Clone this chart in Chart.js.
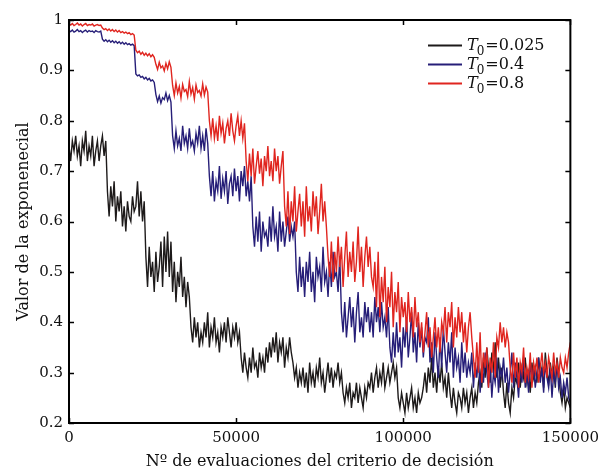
<!DOCTYPE html>
<html>
<head>
<meta charset="utf-8">
<script src="https://cdn.jsdelivr.net/npm/chart.js@4"></script>
<style>
  html, body { margin: 0; padding: 0; background: #fff; }
  canvas { display: block; }
</style>
</head>
<body>
<canvas id="expChart" width="605" height="471"></canvas>
<script>
// evaluaciones (en miles), una muestra cada 500
const evalsK = [
  0,0.5,1,1.5,2,2.5,3,3.5,4,4.5,5,5.5,6,6.5,7,7.5,8,8.5,9,9.5,
  10,10.5,11,11.5,12,12.5,13,13.5,14,14.5,15,15.5,16,16.5,17,17.5,18,18.5,19,19.5,
  20,20.5,21,21.5,22,22.5,23,23.5,24,24.5,25,25.5,26,26.5,27,27.5,28,28.5,29,29.5,
  30,30.5,31,31.5,32,32.5,33,33.5,34,34.5,35,35.5,36,36.5,37,37.5,38,38.5,39,39.5,
  40,40.5,41,41.5,42,42.5,43,43.5,44,44.5,45,45.5,46,46.5,47,47.5,48,48.5,49,49.5,
  50,50.5,51,51.5,52,52.5,53,53.5,54,54.5,55,55.5,56,56.5,57,57.5,58,58.5,59,59.5,
  60,60.5,61,61.5,62,62.5,63,63.5,64,64.5,65,65.5,66,66.5,67,67.5,68,68.5,69,69.5,
  70,70.5,71,71.5,72,72.5,73,73.5,74,74.5,75,75.5,76,76.5,77,77.5,78,78.5,79,79.5,
  80,80.5,81,81.5,82,82.5,83,83.5,84,84.5,85,85.5,86,86.5,87,87.5,88,88.5,89,89.5,
  90,90.5,91,91.5,92,92.5,93,93.5,94,94.5,95,95.5,96,96.5,97,97.5,98,98.5,99,99.5,
  100,100.5,101,101.5,102,102.5,103,103.5,104,104.5,105,105.5,106,106.5,107,107.5,108,108.5,109,109.5,
  110,110.5,111,111.5,112,112.5,113,113.5,114,114.5,115,115.5,116,116.5,117,117.5,118,118.5,119,119.5,
  120,120.5,121,121.5,122,122.5,123,123.5,124,124.5,125,125.5,126,126.5,127,127.5,128,128.5,129,129.5,
  130,130.5,131,131.5,132,132.5,133,133.5,134,134.5,135,135.5,136,136.5,137,137.5,138,138.5,139,139.5,
  140,140.5,141,141.5,142,142.5,143,143.5,144,144.5,145,145.5,146,146.5,147,147.5,148,148.5,149,149.5,
  150];

const t0_025 = [
  0.75,0.72,0.76,0.74,0.77,0.73,0.75,0.71,0.76,0.74,0.78,0.72,0.75,0.73,0.77,0.71,0.74,0.76,0.72,0.75,
  0.77,0.73,0.76,0.66,0.61,0.67,0.63,0.68,0.60,0.65,0.62,0.66,0.59,0.63,0.58,0.64,0.61,0.60,0.65,0.62,
  0.63,0.68,0.61,0.66,0.60,0.64,0.53,0.47,0.55,0.49,0.52,0.46,0.54,0.48,0.51,0.56,0.47,0.57,0.50,0.58,
  0.49,0.56,0.46,0.52,0.44,0.50,0.47,0.53,0.45,0.49,0.43,0.48,0.45,0.39,0.36,0.41,0.37,0.40,0.35,0.38,
  0.36,0.40,0.37,0.42,0.35,0.39,0.37,0.41,0.36,0.38,0.34,0.39,0.37,0.40,0.36,0.41,0.38,0.35,0.39,0.37,
  0.40,0.36,0.38,0.33,0.30,0.34,0.31,0.29,0.33,0.30,0.35,0.31,0.32,0.29,0.34,0.31,0.33,0.30,0.35,0.32,
  0.36,0.33,0.37,0.34,0.38,0.32,0.36,0.34,0.37,0.31,0.35,0.33,0.37,0.34,0.32,0.29,0.31,0.27,0.30,0.28,
  0.31,0.27,0.30,0.26,0.32,0.28,0.30,0.27,0.31,0.29,0.33,0.28,0.30,0.26,0.29,0.32,0.28,0.31,0.27,0.30,
  0.29,0.32,0.28,0.30,0.26,0.24,0.27,0.25,0.28,0.23,0.26,0.25,0.28,0.24,0.27,0.25,0.23,0.27,0.25,0.28,
  0.27,0.30,0.26,0.29,0.31,0.27,0.30,0.28,0.32,0.27,0.29,0.31,0.28,0.30,0.32,0.29,0.31,0.25,0.23,0.26,
  0.24,0.22,0.26,0.23,0.25,0.27,0.23,0.25,0.22,0.26,0.24,0.25,0.27,0.30,0.26,0.31,0.28,0.33,0.27,0.30,
  0.26,0.31,0.28,0.32,0.27,0.29,0.25,0.30,0.26,0.23,0.27,0.24,0.22,0.26,0.25,0.23,0.27,0.24,0.26,0.22,
  0.25,0.27,0.23,0.26,0.24,0.28,0.30,0.27,0.33,0.29,0.35,0.31,0.28,0.34,0.30,0.36,0.29,0.33,0.27,0.31,
  0.26,0.23,0.28,0.24,0.22,0.27,0.25,0.29,0.28,0.32,0.27,0.31,0.29,0.33,0.28,0.30,0.26,0.32,0.29,0.31,
  0.28,0.33,0.29,0.31,0.27,0.34,0.30,0.28,0.32,0.29,0.31,0.27,0.33,0.30,0.26,0.24,0.27,0.23,0.25,0.24,
  0.23];

const t0_4 = [
  0.979,0.977,0.980,0.976,0.978,0.981,0.977,0.979,0.975,0.978,0.980,0.976,0.979,0.977,0.978,0.975,0.979,0.977,0.976,0.978,
  0.962,0.958,0.961,0.957,0.960,0.956,0.959,0.955,0.958,0.954,0.957,0.953,0.956,0.952,0.955,0.951,0.953,0.950,0.952,0.949,
  0.893,0.889,0.891,0.886,0.888,0.883,0.886,0.881,0.884,0.879,0.881,0.876,0.852,0.838,0.849,0.835,0.846,0.842,0.855,0.840,
  0.850,0.837,0.77,0.745,0.78,0.75,0.765,0.74,0.79,0.755,0.77,0.745,0.785,0.75,0.76,0.74,0.775,0.755,0.79,0.745,
  0.77,0.74,0.785,0.755,0.69,0.65,0.70,0.64,0.68,0.66,0.71,0.645,0.685,0.66,0.70,0.635,0.675,0.69,0.65,0.705,
  0.66,0.69,0.64,0.70,0.67,0.71,0.65,0.68,0.64,0.69,0.59,0.55,0.61,0.56,0.62,0.54,0.60,0.57,0.58,0.55,
  0.61,0.56,0.63,0.57,0.59,0.54,0.62,0.56,0.60,0.55,0.58,0.61,0.56,0.59,0.57,0.60,0.50,0.46,0.53,0.47,
  0.51,0.45,0.52,0.48,0.54,0.46,0.50,0.44,0.53,0.49,0.51,0.46,0.55,0.48,0.50,0.45,0.52,0.47,0.54,0.49,
  0.50,0.46,0.53,0.42,0.38,0.44,0.37,0.41,0.45,0.39,0.43,0.36,0.42,0.46,0.38,0.41,0.37,0.44,0.40,0.43,
  0.38,0.42,0.37,0.45,0.40,0.43,0.38,0.44,0.39,0.41,0.37,0.43,0.35,0.32,0.38,0.33,0.40,0.34,0.37,0.31,
  0.39,0.35,0.41,0.33,0.37,0.42,0.34,0.38,0.32,0.40,0.35,0.39,0.33,0.37,0.36,0.41,0.32,0.36,0.30,0.38,
  0.33,0.29,0.37,0.31,0.39,0.34,0.30,0.36,0.32,0.38,0.29,0.35,0.31,0.33,0.28,0.36,0.30,0.34,0.29,0.32,
  0.30,0.34,0.27,0.32,0.29,0.33,0.26,0.31,0.28,0.34,0.30,0.27,0.32,0.25,0.30,0.28,0.33,0.26,0.31,0.29,
  0.33,0.28,0.31,0.26,0.30,0.34,0.27,0.32,0.29,0.25,0.31,0.28,0.33,0.27,0.30,0.26,0.32,0.29,0.31,0.27,
  0.30,0.33,0.28,0.31,0.26,0.32,0.29,0.27,0.31,0.25,0.30,0.28,0.32,0.27,0.29,0.25,0.28,0.26,0.29,0.25,
  0.24];

const t0_8 = [
  0.992,0.990,0.993,0.989,0.991,0.994,0.990,0.992,0.988,0.991,0.993,0.989,0.991,0.990,0.992,0.988,0.990,0.991,0.989,0.990,
  0.984,0.981,0.983,0.979,0.982,0.978,0.981,0.977,0.980,0.976,0.979,0.975,0.977,0.974,0.976,0.973,0.975,0.971,0.973,0.970,
  0.940,0.935,0.938,0.932,0.936,0.930,0.934,0.929,0.933,0.927,0.931,0.926,0.912,0.902,0.916,0.905,0.909,0.899,0.914,0.903,
  0.917,0.906,0.87,0.85,0.875,0.855,0.868,0.845,0.872,0.858,0.862,0.848,0.878,0.853,0.866,0.843,0.871,0.856,0.86,0.849,
  0.873,0.851,0.867,0.857,0.80,0.77,0.805,0.765,0.79,0.76,0.81,0.775,0.795,0.755,0.785,0.80,0.77,0.815,0.78,0.76,
  0.79,0.81,0.77,0.80,0.765,0.795,0.72,0.68,0.735,0.69,0.745,0.675,0.71,0.74,0.695,0.725,0.67,0.73,0.70,0.75,
  0.69,0.72,0.68,0.745,0.70,0.73,0.675,0.71,0.74,0.63,0.59,0.66,0.575,0.64,0.60,0.67,0.58,0.62,0.655,0.59,
  0.64,0.57,0.67,0.60,0.63,0.58,0.66,0.61,0.65,0.575,0.62,0.675,0.60,0.64,0.59,0.53,0.49,0.56,0.48,0.54,
  0.50,0.57,0.51,0.55,0.47,0.53,0.58,0.49,0.54,0.50,0.56,0.48,0.52,0.59,0.50,0.55,0.47,0.53,0.57,0.51,
  0.55,0.49,0.47,0.52,0.43,0.54,0.41,0.49,0.44,0.51,0.40,0.47,0.43,0.50,0.39,0.46,0.42,0.48,0.38,0.45,
  0.41,0.44,0.38,0.46,0.40,0.43,0.37,0.45,0.39,0.42,0.36,0.40,0.34,0.38,0.42,0.35,0.39,0.33,0.37,0.41,
  0.35,0.39,0.34,0.40,0.38,0.43,0.36,0.42,0.39,0.44,0.35,0.41,0.37,0.43,0.38,0.42,0.36,0.40,0.34,0.39,
  0.42,0.37,0.33,0.29,0.36,0.30,0.38,0.28,0.34,0.31,0.35,0.27,0.33,0.30,0.36,0.29,0.37,0.35,0.40,0.36,
  0.39,0.35,0.38,0.36,0.31,0.28,0.34,0.29,0.33,0.27,0.32,0.30,0.35,0.28,0.31,0.29,0.34,0.27,0.32,0.30,
  0.33,0.28,0.31,0.34,0.30,0.32,0.29,0.33,0.31,0.29,0.34,0.30,0.32,0.29,0.33,0.31,0.30,0.33,0.31,0.34,
  0.36];

const t0Values = ['0.025', '0.4', '0.8'];
const lineColors = ['#1d1a1a', '#261e78', '#e0251f'];
const xTicks = [0, 50000, 100000, 150000];
const yTicks = [0.2, 0.3, 0.4, 0.5, 0.6, 0.7, 0.8, 0.9, 1];

const serif = "'DejaVu Serif', 'Liberation Serif', serif";

// marco y marcas hacia dentro, estilo matlab
const frameTicks = {
  id: 'frameTicks',
  afterDatasetsDraw(chart) {
    const { ctx, chartArea: a, scales: { x, y } } = chart;
    ctx.save();
    ctx.strokeStyle = '#000';
    ctx.lineWidth = 1.5;
    ctx.beginPath();
    xTicks.forEach(v => {
      const px = Math.round(x.getPixelForValue(v)) + 0.5;
      ctx.moveTo(px, a.bottom); ctx.lineTo(px, a.bottom - 5);
      ctx.moveTo(px, a.top); ctx.lineTo(px, a.top + 5);
    });
    yTicks.forEach(v => {
      const py = Math.round(y.getPixelForValue(v)) + 0.5;
      ctx.moveTo(a.left, py); ctx.lineTo(a.left + 5, py);
      ctx.moveTo(a.right, py); ctx.lineTo(a.right - 5, py);
    });
    ctx.stroke();
    ctx.lineWidth = 2;
    ctx.strokeRect(a.left, a.top, a.right - a.left, a.bottom - a.top);
    ctx.restore();
  }
};

// leyenda con subindice
const t0Legend = {
  id: 't0Legend',
  afterDraw(chart) {
    const ctx = chart.ctx;
    ctx.save();
    ctx.textBaseline = 'alphabetic';
    chart.data.datasets.forEach((ds, i) => {
      const rowY = 45 + i * 19;
      ctx.strokeStyle = ds.borderColor;
      ctx.lineWidth = 2;
      ctx.beginPath();
      ctx.moveTo(428, rowY + 0.5);
      ctx.lineTo(462, rowY + 0.5);
      ctx.stroke();
      ctx.fillStyle = '#111';
      let tx = 467;
      ctx.font = "italic 16px " + serif;
      ctx.fillText('T', tx, rowY + 5);
      tx += ctx.measureText('T').width - 1;
      ctx.font = "12px " + serif;
      ctx.fillText('0', tx, rowY + 10);
      tx += ctx.measureText('0').width + 1;
      ctx.font = "16px " + serif;
      ctx.fillText('=' + t0Values[i], tx, rowY + 5);
    });
    ctx.restore();
  }
};

const mkSet = (vals, i) => ({
  label: 'T0=' + t0Values[i],
  data: vals,
  borderColor: lineColors[i],
  backgroundColor: lineColors[i],
  borderWidth: 1.4,
  pointRadius: 0,
  tension: 0,
  order: 3 - i
});

new Chart(document.getElementById('expChart'), {
  type: 'line',
  data: {
    labels: evalsK.map(k => k * 1000),
    datasets: [mkSet(t0_025, 0), mkSet(t0_4, 1), mkSet(t0_8, 2)]
  },
  options: {
    responsive: false,
    animation: false,
    events: [],
    layout: { padding: { left: 0, right: 24, top: 20, bottom: 0 } },
    plugins: { legend: { display: false }, tooltip: { enabled: false } },
    scales: {
      x: {
        type: 'linear',
        min: 0, max: 150000,
        afterFit: s => { s.height = 48; },
        afterBuildTicks: s => { s.ticks = xTicks.map(v => ({ value: v })); },
        grid: { display: false, drawTicks: false },
        border: { display: false },
        ticks: {
          padding: 6, color: '#111', maxRotation: 0,
          font: { family: serif, size: 15 },
          callback: v => String(v)
        },
        title: {
          display: true, text: 'Nº de evaluaciones del criterio de decisión',
          color: '#111', font: { family: serif, size: 16 }, padding: { top: 0, bottom: 0 }
        }
      },
      y: {
        min: 0.2, max: 1,
        afterFit: s => { s.width = 69; },
        afterBuildTicks: s => { s.ticks = yTicks.map(v => ({ value: v })); },
        grid: { display: false, drawTicks: false },
        border: { display: false },
        ticks: {
          padding: 6, color: '#111',
          font: { family: serif, size: 15 },
          callback: v => String(Number(v.toFixed(1)))
        },
        title: {
          display: true, text: 'Valor de la exponenecial',
          color: '#111', font: { family: serif, size: 16 }, padding: { top: 14, bottom: 0 }
        }
      }
    }
  },
  plugins: [frameTicks, t0Legend]
});
</script>
</body>
</html>
